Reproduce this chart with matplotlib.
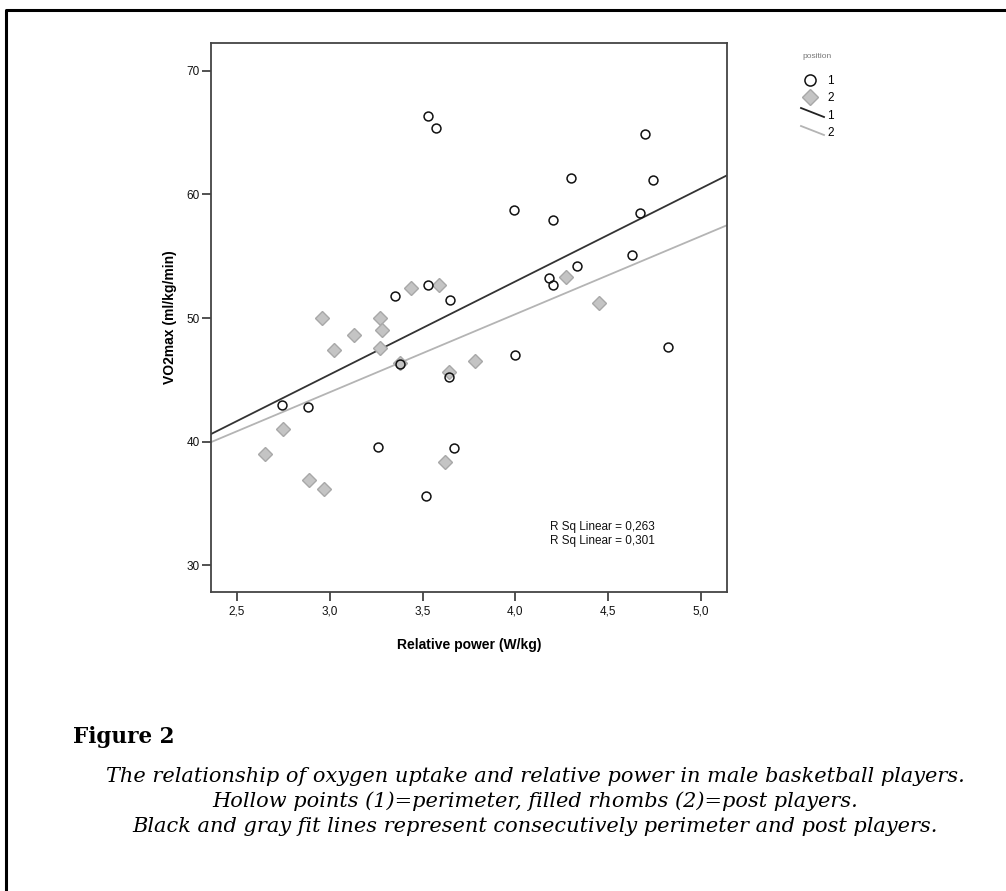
import numpy as np
import matplotlib.pyplot as plt
from matplotlib.lines import Line2D

# data (relative power W/kg, VO2max ml/kg/min)
perim_x = [3.53, 3.57, 4.70, 4.30, 4.74, 3.99, 4.20, 4.67, 4.63, 4.33, 4.18, 4.20,
           3.53, 3.35, 3.38, 3.65, 3.64, 4.00, 4.82, 2.74, 2.88, 3.26, 3.67, 3.52]
perim_y = [66.3, 65.4, 64.9, 61.3, 61.2, 58.7, 57.9, 58.5, 55.1, 54.2, 53.2, 52.7,
           52.7, 51.8, 46.3, 51.5, 45.2, 47.0, 47.7, 43.0, 42.8, 39.6, 39.5, 35.6]
post_x = [4.27, 3.44, 3.59, 2.96, 3.27, 3.28, 3.13, 3.02, 3.27, 3.38, 3.64, 3.78,
          4.45, 2.75, 2.65, 2.89, 2.97, 3.62]
post_y = [53.3, 52.4, 52.7, 50.0, 50.0, 49.0, 48.6, 47.4, 47.6, 46.4, 45.6, 46.5,
          51.2, 41.0, 39.0, 36.9, 36.2, 38.4]
r_sq_values = [0.263, 0.301]
x_ticks = [2.5, 3.0, 3.5, 4.0, 4.5, 5.0]
y_ticks = [30, 40, 50, 60, 70]

plt.rcParams['font.family'] = ['Liberation Sans', 'DejaVu Sans']

W, H = 1006, 891
fig = plt.figure(figsize=(W / 100, H / 100), dpi=100)

# main scatter axes (pixel box 211..727 x 43..592)
ax = fig.add_axes([211 / W, 1 - 592 / H, 516 / W, 549 / H])
ax.set_xlim(2.36, 5.14)
ax.set_ylim(27.85, 72.24)

xs = np.array(ax.get_xlim())
for gx, gy, col in [(perim_x, perim_y, '#333333'), (post_x, post_y, '#b4b4b4')]:
    slope, icept = np.polyfit(gx, gy, 1)
    ax.plot(xs, icept + slope * xs, color=col, lw=1.3, zorder=2)

ax.plot(post_x, post_y, linestyle='none', marker='D', ms=6.8,
        mfc='#c4c4c4', mec='#a8a8a8', mew=1.0, zorder=3)
ax.plot(perim_x, perim_y, linestyle='none', marker='o', ms=6.4,
        mfc='none', mec='#111111', mew=1.1, zorder=4)

ax.set_xticks(x_ticks)
ax.set_xticklabels([f"{v:.1f}".replace('.', ',') for v in x_ticks])
ax.set_yticks(y_ticks)
ax.tick_params(direction='out', length=6.5, width=1.2, color='#333333',
               labelsize=8.5, labelcolor='#111111')
ax.tick_params(axis='x', pad=3)
ax.tick_params(axis='y', pad=1.5)
for sp in ax.spines.values():
    sp.set_color('#444444')
    sp.set_linewidth(1.3)

ax.set_xlabel("Relative power (W/kg)", fontsize=10, fontweight='bold', labelpad=15)
ax.set_ylabel("VO2max (ml/kg/min)", fontsize=10, fontweight='bold', labelpad=7)

for i, r in enumerate(r_sq_values):
    ax.text(0.657, 0.118 - i * 0.026, f"R Sq Linear = {r:.3f}".replace('.', ','),
            transform=ax.transAxes, fontsize=8.5, va='center', ha='left', color='#111111')

# overlay in pixel units for frame, legend and caption
ov = fig.add_axes([0, 0, 1, 1], zorder=-1)
ov.set_xlim(0, W)
ov.set_ylim(H, 0)
ov.axis('off')
ov.plot([6, 6, W], [H, 10, 10], color='black', lw=2.2)

# legend
ov.text(817, 57, "position", fontsize=6, color='#777777', ha='center', va='center')
lax_items = [('o', dict(mfc='none', mec='#111111', mew=1.1, ms=8)),
             ('D', dict(mfc='#c4c4c4', mec='#a8a8a8', mew=1.0, ms=8))]
for j, (mk, kw) in enumerate(lax_items):
    ov.plot([810], [80 + j * 17], marker=mk, linestyle='none', **kw)
    ov.text(827, 81 + j * 17, str(j + 1), fontsize=8.5, va='center', ha='left')
for j, col in enumerate(['#222222', '#b4b4b4']):
    ov.add_line(Line2D([801, 824], [108 + j * 18, 117 + j * 18], color=col, lw=1.3))
    ov.text(827, 116 + j * 17, str(j + 1), fontsize=8.5, va='center', ha='left')

# caption
fig.text(73 / W, 1 - 737 / H, "Figure 2", fontsize=15.5, fontweight='bold',
         family=['DejaVu Serif'], ha='left', va='center')
caption = ["The relationship of oxygen uptake and relative power in male basketball players.",
           "Hollow points (1)=perimeter, filled rhombs (2)=post players.",
           "Black and gray fit lines represent consecutively perimeter and post players."]
for k, line in enumerate(caption):
    fig.text(535 / W, 1 - (777 + k * 24.5) / H, line, fontsize=15, style='italic',
             family=['DejaVu Serif'], ha='center', va='center')

fig.savefig("out.png", dpi=100)
